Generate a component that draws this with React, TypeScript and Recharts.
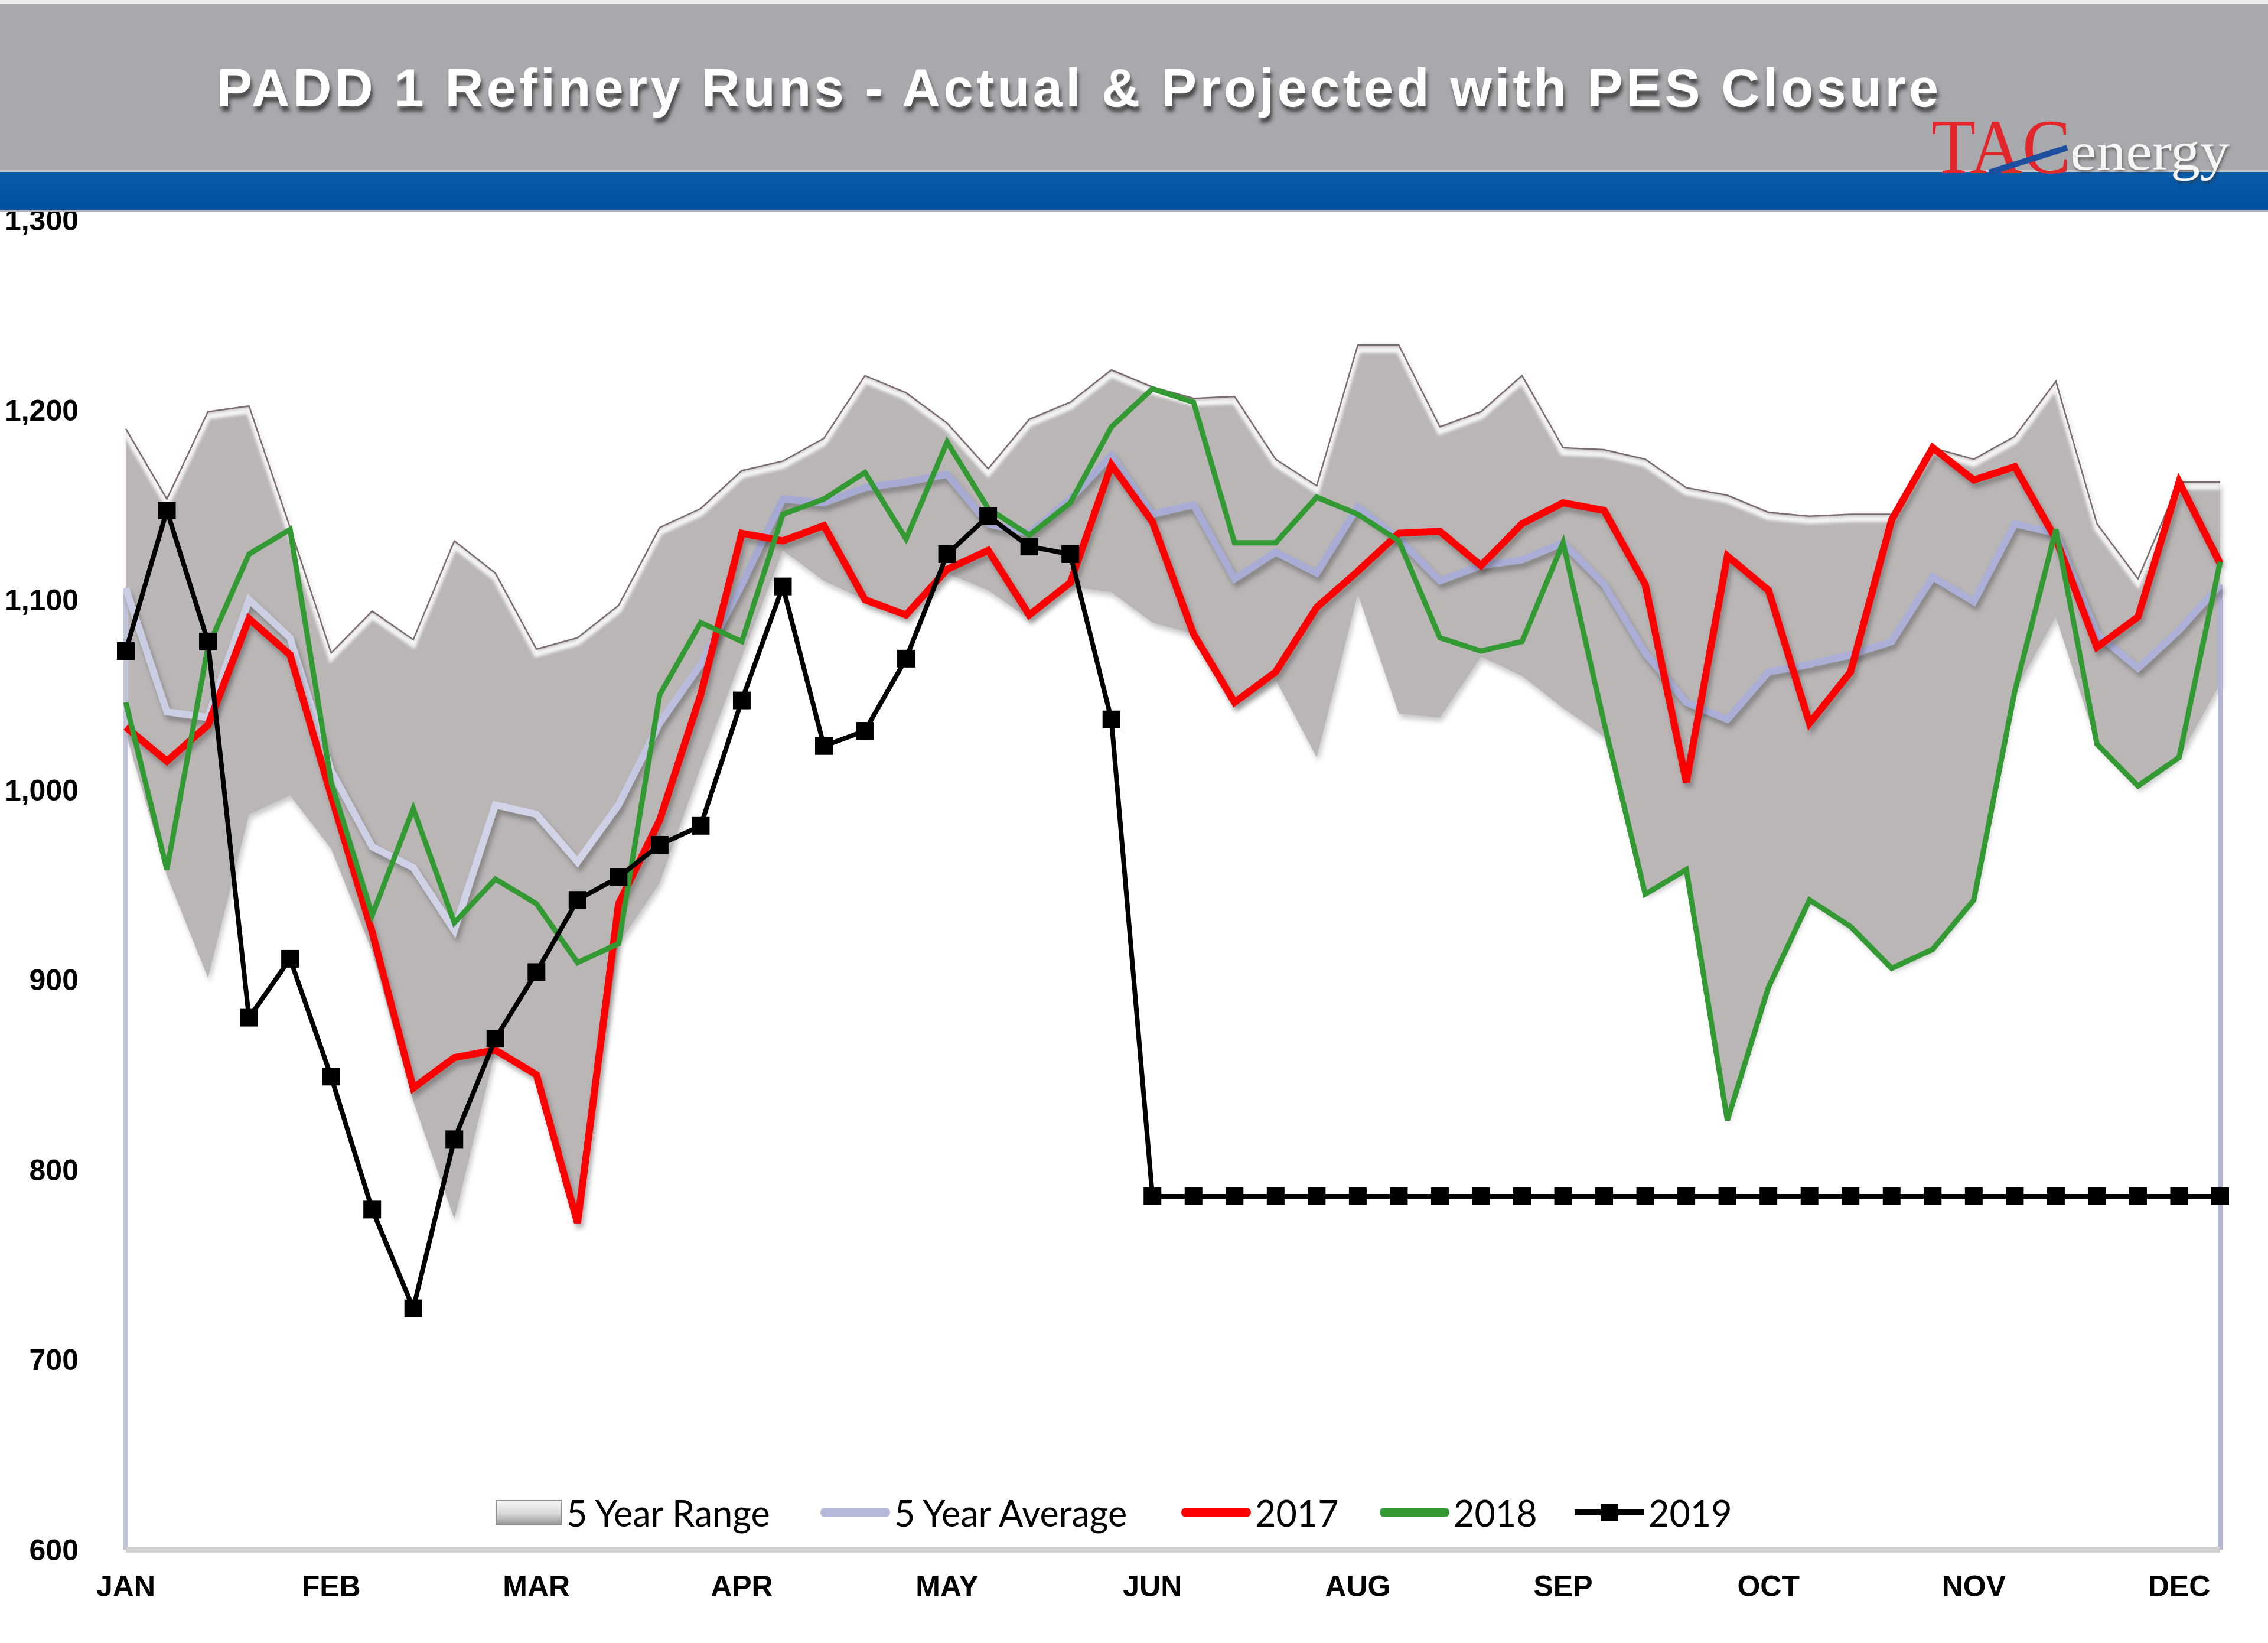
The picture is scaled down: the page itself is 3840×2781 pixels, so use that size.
import React from 'react';
import { ComposedChart, Area, Line, XAxis, YAxis, ReferenceLine } from 'recharts';

// ---- data ----
const monthLabels = ['JAN', 'FEB', 'MAR', 'APR', 'MAY', 'JUN', 'AUG', 'SEP', 'OCT', 'NOV', 'DEC'];
const monthTickWeeks = [0, 5, 10, 15, 20, 25, 30, 35, 40, 45, 50];
const yTicks = [600, 700, 800, 900, 1000, 1100, 1200, 1300];

const rangeLow = [1030, 955, 901, 987, 997, 969, 915, 836, 774, 863, 850, 772, 919, 951, 1012, 1070, 1126, 1110, 1100, 1092, 1114, 1105, 1090, 1107, 1104, 1088, 1082, 1044, 1058, 1017, 1103, 1040, 1038, 1070, 1060, 1043, 1028, 945, 957, 826, 896, 942, 927, 906, 916, 942, 1052, 1091, 1024, 1001, 1017, 1056];
const rangeHigh = [1190, 1153, 1199, 1202, 1138, 1072, 1094, 1079, 1131, 1114, 1074, 1080, 1097, 1138, 1148, 1168, 1173, 1185, 1218, 1209, 1193, 1169, 1195, 1204, 1221, 1212, 1206, 1207, 1174, 1160, 1234, 1234, 1191, 1199, 1218, 1180, 1179, 1174, 1159, 1155, 1146, 1144, 1145, 1145, 1180, 1174, 1186, 1215, 1140, 1111, 1162, 1162];
const avg5 = [1106, 1041, 1038, 1100, 1080, 1010, 970, 959, 926, 992, 987, 962, 992, 1035, 1066, 1108, 1153, 1151, 1159, 1162, 1166, 1140, 1135, 1153, 1176, 1145, 1150, 1111, 1125, 1114, 1149, 1132, 1110, 1118, 1121, 1130, 1108, 1072, 1046, 1037, 1062, 1066, 1071, 1078, 1112, 1099, 1140, 1135, 1082, 1064, 1084, 1108];
const y2017 = [1033, 1015, 1034, 1090, 1071, 997, 925, 843, 859, 863, 850, 772, 940, 984, 1050, 1135, 1131, 1139, 1100, 1092, 1116, 1126, 1092, 1109, 1171, 1141, 1082, 1046, 1062, 1096, 1115, 1135, 1136, 1118, 1140, 1151, 1147, 1108, 1004, 1123, 1105, 1035, 1062, 1142, 1180, 1163, 1170, 1132, 1075, 1091, 1162, 1119];
const y2018 = [1046, 958, 1075, 1124, 1137, 1004, 934, 990, 930, 953, 940, 909, 919, 1050, 1088, 1078, 1145, 1153, 1167, 1132, 1183, 1148, 1134, 1151, 1191, 1211, 1204, 1130, 1130, 1154, 1145, 1131, 1080, 1073, 1078, 1130, 1035, 945, 958, 826, 896, 942, 928, 906, 916, 942, 1052, 1137, 1024, 1002, 1017, 1120];
const y2019 = [1073, 1147, 1078, 880, 911, 849, 779, 727, 816, 869, 904, 942, 954, 971, 981, 1047, 1107, 1023, 1031, 1069, 1124, 1144, 1128, 1124, 1037, 786, 786, 786, 786, 786, 786, 786, 786, 786, 786, 786, 786, 786, 786, 786, 786, 786, 786, 786, 786, 786, 786, 786, 786, 786, 786, 786];

const seriesNames = ['5 Year Range', '5 Year Average', '2017', '2018', '2019'];

const weeks = y2019.map((_, i) => i);

const data = weeks.map((w, i) => ({
  week: w,
  range: [rangeLow[i], rangeHigh[i]],
  high: rangeHigh[i],
  avg: avg5[i],
  y2017: y2017[i],
  y2018: y2018[i],
  y2019: y2019[i],
}));

const lastWeek = weeks[weeks.length - 1];

// ---- styles ----
const AXIS_FONT = '"Liberation Sans", Arial, sans-serif';
const LEGEND_FONT = 'Lato, "Open Sans", sans-serif';
const RED = '#FF0000';
const GREEN = '#339933';

const fmt = (v: number) => v.toLocaleString('en-US');

const YTick = (props: any) => {
  const { x, y, payload } = props;
  return (
    <text x={x} y={y} dy="0.36em" textAnchor="end" fontFamily={AXIS_FONT} fontWeight="bold" fontSize={50} fill="#000">
      {fmt(payload.value)}
    </text>
  );
};

const XTick = (props: any) => {
  const { x, y, payload } = props;
  const idx = monthTickWeeks.indexOf(payload.value);
  return (
    <text x={x} y={y} dy={79} textAnchor="middle" fontFamily={AXIS_FONT} fontWeight="bold" fontSize={50} fill="#000">
      {idx >= 0 ? monthLabels[idx] : ''}
    </text>
  );
};

const SquareDot = (props: any) => {
  const { cx, cy, index } = props;
  if (cx == null || cy == null) return null;
  return <rect key={`sq-${index}`} x={cx - 15} y={cy - 15} width={30} height={30} fill="#000" />;
};

const lineIcon = (color: string) => (
  <svg width={118} height={20} style={{ display: 'block' }}>
    <rect x={0} y={2} width={118} height={16} rx={8} fill={color} />
  </svg>
);

const legendIcons: React.ReactNode[] = [
  <svg width={113} height={42} style={{ display: 'block' }}>
    <defs>
      <linearGradient id="legRange" x1="0" y1="0" x2="0" y2="1">
        <stop offset="0%" stopColor="#F6F6F6" />
        <stop offset="55%" stopColor="#D8D8D8" />
        <stop offset="100%" stopColor="#9A9A9A" />
      </linearGradient>
    </defs>
    <rect x={1} y={1} width={111} height={40} fill="url(#legRange)" stroke="#8E8E8E" strokeWidth={2} />
  </svg>,
  lineIcon('#B6B9DC'),
  lineIcon(RED),
  lineIcon(GREEN),
  <svg width={118} height={34} style={{ display: 'block' }}>
    <rect x={0} y={12} width={118} height={10} fill="#000" />
    <rect x={44} y={2} width={30} height={30} fill="#000" />
  </svg>,
];
const legendLefts = [839, 1389, 2000, 2336, 2666];

const LegendBlock = () => (
  <div style={{ position: 'absolute', left: 0, top: 2528, width: 3840, height: 64, zIndex: 4 }}>
    {seriesNames.map((name, i) => (
      <div
        key={name}
        style={{
          position: 'absolute',
          left: legendLefts[i],
          top: 0,
          height: 64,
          display: 'flex',
          alignItems: 'center',
          fontFamily: LEGEND_FONT,
          fontSize: 61,
          color: '#000',
          lineHeight: 1,
          whiteSpace: 'nowrap',
        }}
      >
        {legendIcons[i]}
        <span style={{ marginLeft: 7 }}>{name}</span>
      </div>
    ))}
  </div>
);

const css = `
.bevel .recharts-line-curve { transform: translateY(8px); filter: blur(2.5px); }
.shadowed .recharts-line-curve { filter: drop-shadow(4px 8px 4px rgba(0,0,0,0.28)); }
.rangeArea .recharts-area-area { filter: drop-shadow(3px 7px 5px rgba(0,0,0,0.22)); }
`;

const Header = () => (
  <svg
    width={3840}
    height={362}
    style={{ position: 'absolute', left: 0, top: 0, zIndex: 5, pointerEvents: 'none' }}
  >
    <defs>
      <filter id="titleShadow" x="-5%" y="-30%" width="110%" height="170%">
        <feDropShadow dx="3" dy="9" stdDeviation="3" floodColor="#2a2a2a" floodOpacity="0.75" />
      </filter>
      <filter id="logoShadow" x="-10%" y="-30%" width="120%" height="170%">
        <feDropShadow dx="2" dy="4" stdDeviation="2" floodColor="#333" floodOpacity="0.6" />
      </filter>
      <linearGradient id="blueBand" x1="0" y1="0" x2="0" y2="1">
        <stop offset="0%" stopColor="#0A5BAA" />
        <stop offset="100%" stopColor="#00509E" />
      </linearGradient>
    </defs>
    <rect x={0} y={0} width={3840} height={7} fill="#EEEEEF" />
    <rect x={0} y={7} width={3840} height={281} fill="#A7A9AC" />
    <rect x={0} y={288} width={3840} height={3} fill="#C9C6C8" />
    <rect x={0} y={291} width={3840} height={64} fill="url(#blueBand)" />
    <rect x={0} y={355} width={3840} height={3} fill="#A9B2C2" />
    <text
      x={367}
      y={180}
      textLength={2915}
      lengthAdjust="spacing"
      fontFamily={AXIS_FONT}
      fontWeight="bold"
      fontSize={90}
      fill="#FFFFFF"
      filter="url(#titleShadow)"
    >
      PADD 1 Refinery Runs - Actual &amp; Projected with PES Closure
    </text>
    <text
      x={3270}
      y={293}
      textLength={236}
      lengthAdjust="spacingAndGlyphs"
      fontFamily='"Liberation Serif", "Times New Roman", serif'
      fontSize={132}
      fill="#E2262C"
    >
      TAC
    </text>
    <line x1={3368} y1={292} x2={3500} y2={250} stroke="#1E4F9E" strokeWidth={10} />
    <text
      x={3505}
      y={287}
      textLength={270}
      lengthAdjust="spacingAndGlyphs"
      fontFamily='"Liberation Serif", "Times New Roman", serif'
      fontSize={92}
      fill="#F5F5F5"
      filter="url(#logoShadow)"
    >
      energy
    </text>
  </svg>
);

export default function App() {
  return (
    <div style={{ position: 'absolute', left: 0, top: 0, width: 3840, height: 2781, background: '#FFFFFF', overflow: 'hidden' }}>
      <style>{css}</style>
      <ComposedChart
        width={3840}
        height={2781}
        data={data}
        margin={{ top: 372, right: 81, bottom: 58, left: 13 }}
      >
        <defs>
          <linearGradient id="avgGrad" x1="0" y1="0" x2="1" y2="0">
            <stop offset="0%" stopColor="#CACCE2" />
            <stop offset="22%" stopColor="#D3D4E8" />
            <stop offset="30%" stopColor="#A6AAD3" />
            <stop offset="100%" stopColor="#ADB0D7" />
          </linearGradient>
        </defs>
        <XAxis
          dataKey="week"
          type="number"
          domain={[0, lastWeek]}
          ticks={monthTickWeeks}
          interval={0}
          height={100}
          tickLine={false}
          tickSize={0}
          tickMargin={0}
          axisLine={{ stroke: '#D2D2D2', strokeWidth: 10 }}
          tick={<XTick />}
        />
        <YAxis
          type="number"
          domain={[600, 1300]}
          ticks={yTicks}
          interval={0}
          width={200}
          tickLine={false}
          tickSize={0}
          tickMargin={80}
          axisLine={false}
          tick={<YTick />}
        />
        <Area
          className="rangeArea"
          dataKey="range"
          name={seriesNames[0]}
          type="linear"
          fill="#BAB6B6"
          fillOpacity={1}
          stroke="none"
          isAnimationActive={false}
          activeDot={false}
        />
        <Line
          className="bevel"
          dataKey="high"
          type="linear"
          stroke="#FFFFFF"
          strokeOpacity={0.85}
          strokeWidth={10}
          dot={false}
          activeDot={false}
          isAnimationActive={false}
        />
        <Line
          dataKey="high"
          type="linear"
          stroke="#7A6C6C"
          strokeWidth={2.5}
          dot={false}
          activeDot={false}
          isAnimationActive={false}
        />
        <ReferenceLine
          segment={[{ x: 0, y: avg5[0] }, { x: 0, y: 600 }]}
          stroke="#C3C5DD"
          strokeWidth={8}
          ifOverflow="visible"
        />
        <ReferenceLine
          segment={[{ x: lastWeek, y: avg5[lastWeek] }, { x: lastWeek, y: 600 }]}
          stroke="#B0B3D6"
          strokeWidth={8}
          ifOverflow="visible"
        />
        <Line
          className="shadowed"
          dataKey="avg"
          name={seriesNames[1]}
          type="linear"
          stroke="url(#avgGrad)"
          strokeWidth={12}
          dot={false}
          activeDot={false}
          isAnimationActive={false}
        />
        <Line
          className="shadowed"
          dataKey="y2017"
          name={seriesNames[2]}
          type="linear"
          stroke={RED}
          strokeWidth={12}
          dot={false}
          activeDot={false}
          isAnimationActive={false}
        />
        <Line
          dataKey="y2018"
          name={seriesNames[3]}
          type="linear"
          stroke={GREEN}
          strokeWidth={9}
          dot={false}
          activeDot={false}
          isAnimationActive={false}
        />
        <Line
          dataKey="y2019"
          name={seriesNames[4]}
          type="linear"
          stroke="#000000"
          strokeWidth={8}
          dot={<SquareDot />}
          activeDot={false}
          isAnimationActive={false}
        />
      </ComposedChart>
      <LegendBlock />
      <Header />
    </div>
  );
}
